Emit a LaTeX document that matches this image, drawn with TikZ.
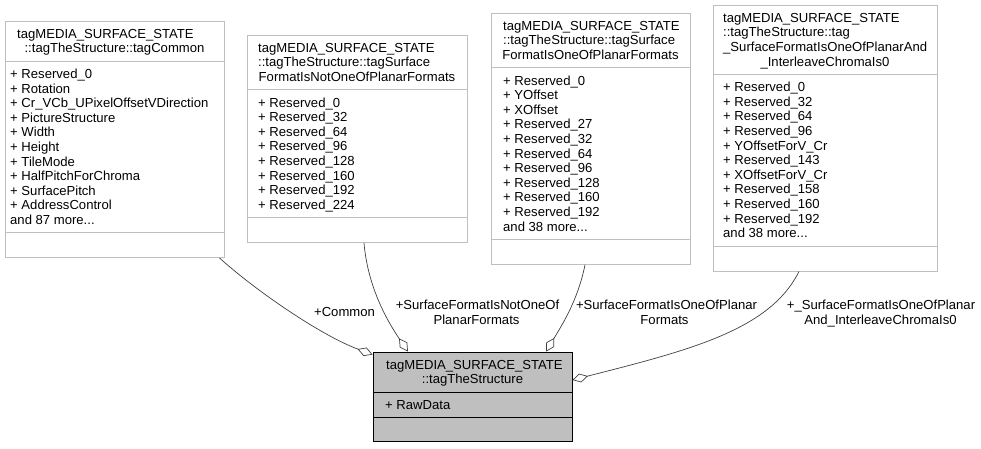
\documentclass[tikz,border=0pt]{standalone}
\usepackage{fontspec}
\setmainfont{Liberation Sans}
\usepackage{xcolor}
\usepackage{tikz}
\usetikzlibrary{arrows.meta}

\definecolor{boxgray}{HTML}{BFBFBF}
\definecolor{edgegray}{HTML}{404040}
\newcommand{\trail}{...}

\tikzset{
  classbox/.style={shape=rectangle, draw=boxgray, fill=white, line width=0.8pt, inner sep=0pt},
  rootbox/.style={shape=rectangle, draw=black, fill=boxgray, line width=0.8pt, inner sep=0pt},
  divider/.style={draw=boxgray, line width=0.8pt},
  rootdivider/.style={draw=black, line width=0.8pt},
  txt/.style={anchor=base west, inner sep=0pt, font=\fontsize{13.1}{14.6}\selectfont},
  ctxt/.style={txt, anchor=base},
  aggregate/.style={draw=edgegray, line width=0.7pt, -{Diamond[open, length=16pt, width=9pt]}},
}

\begin{document}
\begin{tikzpicture}[x=1pt, y=-1pt]
  \useasboundingbox (0,0) rectangle (981,448);
  % Boxes, texts and links:
  \node[classbox, minimum width=219, minimum height=236.5] (common) at (114.5, 139.25) {};
  \node[txt] (commonT1) at (17, 38.2) {tagMEDIA\_SURFACE\_STATE};
  \node[ctxt] (commonT2) at (114.5, 52.8) {::tagTheStructure::tagCommon};
  \draw[divider] (5, 61.2) -- (224, 61.2);
  \draw[divider] (5, 232.8) -- (224, 232.8);
  \foreach \m [count=\i from 0] in {+ Reserved\_0, + Rotation, + Cr\_VCb\_UPixelOffsetVDirection, + PictureStructure, + Width, + Height, + TileMode, + HalfPitchForChroma, + SurfacePitch, + AddressControl, and 87 more\trail}
    \node[txt] (commonM\i) at (10, 78.4+14.6*\i) {\m};

  \node[classbox, minimum width=220, minimum height=207.6] (notplanar) at (357, 138.8) {};
  \node[txt] (notplanarT1) at (258, 52.2) {tagMEDIA\_SURFACE\_STATE};
  \node[txt] (notplanarT2) at (258, 66.8) {::tagTheStructure::tagSurface};
  \node[ctxt] (notplanarT3) at (357, 81.4) {FormatIsNotOneOfPlanarFormats};
  \draw[divider] (247, 89.8) -- (467, 89.8);
  \draw[divider] (247, 217.6) -- (467, 217.6);
  \foreach \m [count=\i from 0] in {+ Reserved\_0, + Reserved\_32, + Reserved\_64, + Reserved\_96, + Reserved\_128, + Reserved\_160, + Reserved\_192, + Reserved\_224}
    \node[txt] (notplanarM\i) at (258, 107+14.6*\i) {\m};

  \node[classbox, minimum width=199, minimum height=251.4] (planar) at (590.5, 138.7) {};
  \node[txt] (planarT1) at (503, 30.2) {tagMEDIA\_SURFACE\_STATE};
  \node[txt] (planarT2) at (503, 44.8) {::tagTheStructure::tagSurface};
  \node[ctxt] (planarT3) at (590.5, 59.4) {FormatIsOneOfPlanarFormats};
  \draw[divider] (491, 67.8) -- (690, 67.8);
  \draw[divider] (491, 239.4) -- (690, 239.4);
  \foreach \m [count=\i from 0] in {+ Reserved\_0, + YOffset, + XOffset, + Reserved\_27, + Reserved\_32, + Reserved\_64, + Reserved\_96, + Reserved\_128, + Reserved\_160, + Reserved\_192, and 38 more\trail}
    \node[txt] (planarM\i) at (503, 85+14.6*\i) {\m};

  \node[classbox, minimum width=224, minimum height=266] (interleave) at (825, 138) {};
  \node[txt] (interleaveT1) at (723, 22.2) {tagMEDIA\_SURFACE\_STATE};
  \node[txt] (interleaveT2) at (723, 36.8) {::tagTheStructure::tag};
  \node[txt] (interleaveT3) at (723, 51.4) {\_SurfaceFormatIsOneOfPlanarAnd};
  \node[ctxt] (interleaveT4) at (825, 66) {\_InterleaveChromaIs0};
  \draw[divider] (713, 74.4) -- (937, 74.4);
  \draw[divider] (713, 246) -- (937, 246);
  \foreach \m [count=\i from 0] in {+ Reserved\_0, + Reserved\_32, + Reserved\_64, + Reserved\_96, + YOffsetForV\_Cr, + Reserved\_143, + XOffsetForV\_Cr, + Reserved\_158, + Reserved\_160, + Reserved\_192, and 38 more\trail}
    \node[txt] (interleaveM\i) at (723, 91.6+14.6*\i) {\m};

  \node[rootbox, minimum width=199, minimum height=89] (thestruct) at (472.5, 396.5) {};
  \node[txt] (thestructT1) at (386, 369.2) {tagMEDIA\_SURFACE\_STATE};
  \node[ctxt] (thestructT2) at (472.5, 383.8) {::tagTheStructure};
  \draw[rootdivider] (373, 392.2) -- (572, 392.2);
  \draw[rootdivider] (373, 417) -- (572, 417);
  \node[txt] (thestructM0) at (385, 409.4) {+ RawData};

  \draw[aggregate] ([xshift=-5pt]common.south east) .. controls (255,290) and (320,335) .. ([yshift=-3pt]thestruct.north west);
  \draw[aggregate] ([xshift=7pt]notplanar.south) .. controls (368,290) and (390,325) .. ([xshift=-64.5pt]thestruct.north);
  \draw[aggregate] ([xshift=-5.5pt]planar.south) .. controls (578,300) and (562,325) .. ([xshift=73.5pt]thestruct.north);
  \draw[aggregate] ([xshift=-26pt]interleave.south) .. controls (770,330) and (690,350) .. ([yshift=16.5pt]thestruct.east);

  \node[ctxt] (commonL) at (344.5, 316.5) {+Common};
  \node[ctxt] (notplanarL1) at (477.5, 309.5) {+SurfaceFormatIsNotOneOf};
  \node[ctxt] (notplanarL2) at (476.5, 324.1) {PlanarFormats};
  \node[ctxt] (planarL1) at (666.5, 309.5) {+SurfaceFormatIsOneOfPlanar};
  \node[ctxt] (planarL2) at (664.5, 324.1) {Formats};
  \node[ctxt] (interleaveL1) at (881, 309.5) {+\_SurfaceFormatIsOneOfPlanar};
  \node[ctxt] (interleaveL2) at (880.5, 324.1) {And\_InterleaveChromaIs0};
\end{tikzpicture}
\end{document}
